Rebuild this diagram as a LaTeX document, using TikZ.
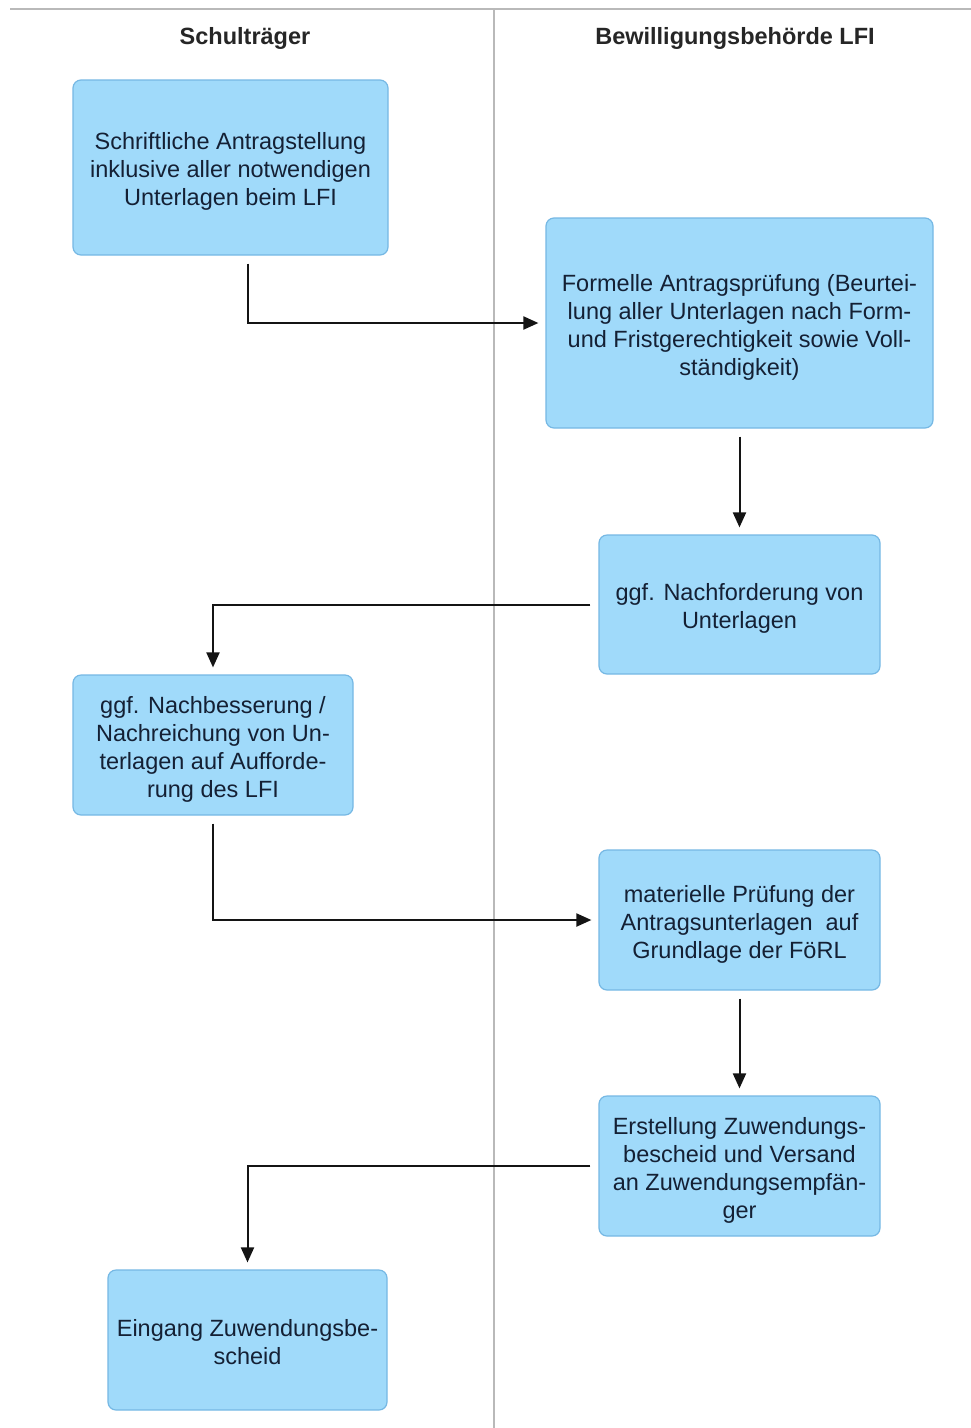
\documentclass[tikz,border=0pt]{standalone}
\usepackage{fontspec}
\setmainfont{Liberation Sans}
\usetikzlibrary{arrows.meta}
\definecolor{boxfill}{RGB}{160,218,250}
\definecolor{boxline}{RGB}{118,184,228}
\definecolor{txt}{RGB}{20,32,52}
\definecolor{lane}{RGB}{185,185,185}
\definecolor{arrcol}{RGB}{20,20,20}
\newsavebox{\txtbox}
\newcommand{\boxtext}[1]{\sbox{\txtbox}{\begin{tabular}{@{}c@{}}#1\end{tabular}}%
  \raisebox{0pt}[\dimexpr\ht\txtbox+9pt\relax][\dp\txtbox]{\usebox{\txtbox}}}
\tikzset{
  stepbox/.style={rounded corners=8pt, fill=boxfill, draw=boxline, line width=1.2pt,
    text=txt, font=\fontsize{23.5}{28}\selectfont, inner sep=0pt},
  lanehead/.style={font=\bfseries\fontsize{23.5}{28}\selectfont, text=black!85},
  arr/.style={draw=arrcol, line width=2pt, -{Triangle[length=15pt,width=13pt]},
    shorten >=7pt, shorten <=8pt},
  laneline/.style={draw=lane, line width=2pt}
}
\begin{document}
\begin{tikzpicture}[x=1pt,y=-1pt]
\useasboundingbox[fill=white] (0,0) rectangle (971,1428);
% lanes
\draw[laneline] (10,9) -- (971,9);
\draw[laneline] (493.5,9) -- (493.5,1428);
\node[lanehead] (h1) at (245,38.5) {Schulträger};
\node[lanehead] (h2) at (735,38.5) {Bewilligungsbehörde LFI};
% boxes
\node[stepbox, minimum width=315pt, minimum height=175pt] (b1) at (230.5,167.5)
  {\boxtext{Schriftliche Antragstellung\\inklusive aller notwendigen\\Unterlagen beim LFI}};
\node[stepbox, minimum width=387pt, minimum height=210pt] (b2) at (739.5,323)
  {\boxtext{Formelle Antragsprüfung (Beurtei-\\lung aller Unterlagen nach Form-\\und Fristgerechtigkeit sowie Voll-\\ständigkeit)}};
\node[stepbox, minimum width=281pt, minimum height=139pt] (b3) at (739.5,604.5)
  {\boxtext{ggf. Nachforderung von\\Unterlagen}};
\node[stepbox, minimum width=280pt, minimum height=140pt] (b4) at (213,745)
  {\boxtext{ggf. Nachbesserung /\\Nachreichung von Un-\\terlagen auf Aufforde-\\rung des LFI}};
\node[stepbox, minimum width=281pt, minimum height=140pt] (b5) at (739.5,920)
  {\boxtext{materielle Prüfung der\\Antragsunterlagen\ \ auf\\Grundlage der FöRL}};
\node[stepbox, minimum width=281pt, minimum height=140pt] (b6) at (739.5,1166)
  {\boxtext{Erstellung Zuwendungs-\\bescheid und Versand\\an Zuwendungsempfän-\\ger}};
\node[stepbox, minimum width=279pt, minimum height=140pt] (b7) at (247.5,1340)
  {\boxtext{Eingang Zuwendungsbe-\\scheid}};
% connectors
\draw[arr] ([xshift=17.5pt]b1.south) |- (b2.west);
\draw[arr] (b2.south) -- (b3.north);
\draw[arr] (b3.west) -| (b4.north);
\draw[arr] (b4.south) |- (b5.west);
\draw[arr] (b5.south) -- (b6.north);
\draw[arr] (b6.west) -| (b7.north);
\end{tikzpicture}
\end{document}
